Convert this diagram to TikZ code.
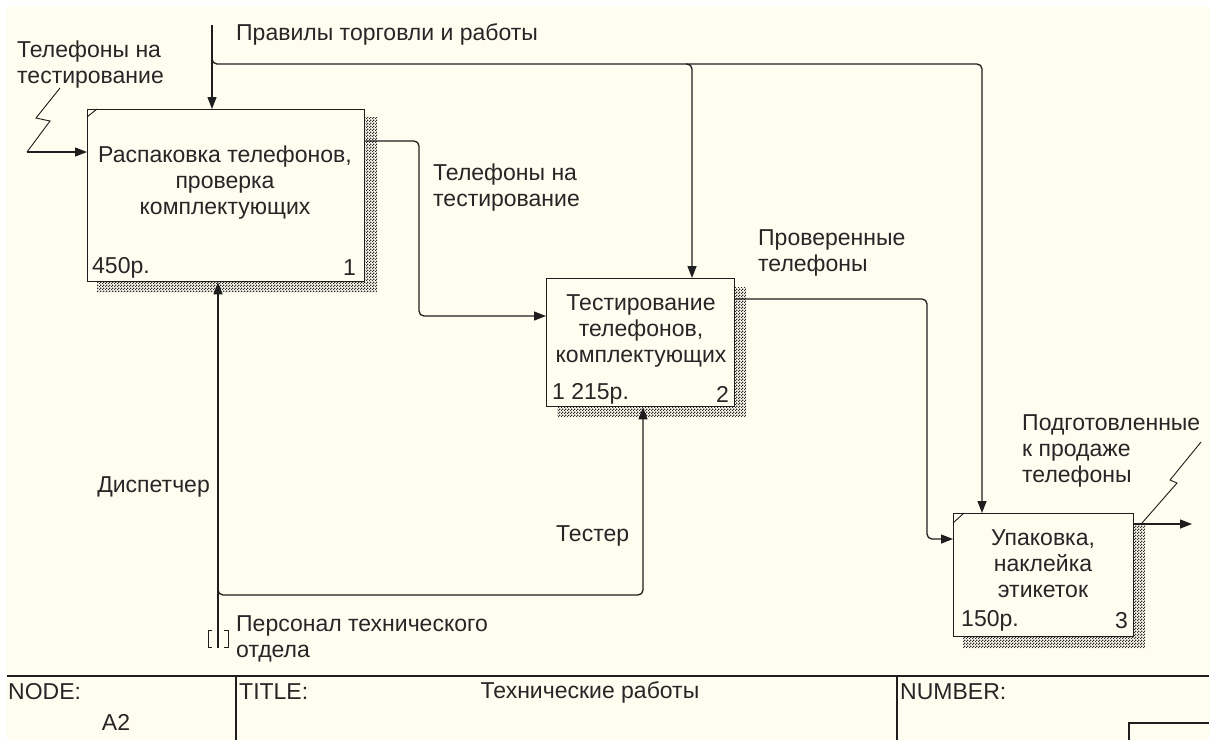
\documentclass[tikz,border=0pt]{standalone}
\usepackage{fontspec}
\setmainfont{Liberation Sans}
\usetikzlibrary{arrows.meta,patterns}

\definecolor{paper}{RGB}{255,252,240}
\definecolor{ink}{RGB}{30,30,30}
\definecolor{shade}{RGB}{40,40,40}

% checkered hatching used for the box shadows
\pgfdeclarepatternformonly{finecheck}{\pgfpointorigin}{\pgfpoint{3pt}{3pt}}{\pgfpoint{3pt}{3pt}}{%
  \pgfpathrectangle{\pgfpointorigin}{\pgfpoint{1.5pt}{1.5pt}}%
  \pgfpathrectangle{\pgfpoint{1.5pt}{1.5pt}}{\pgfpoint{1.5pt}{1.5pt}}%
  \pgfusepath{fill}}

\tikzset{
  lab/.style={font=\fontsize{23}{26}\selectfont, text=black!85, inner sep=0pt},
  proc/.style={draw=ink, line width=1.3pt, fill=paper, anchor=north west, inner sep=0pt},
  boxshadow/.style={pattern=finecheck, pattern color=shade},
  conn/.style={draw=ink, line width=1.3pt, rounded corners=5pt},
  arr/.style={conn, -{Triangle[length=12pt,width=9pt]}},
  bolt/.style={draw=ink, line width=0.9pt},
  tick/.style={draw=ink, line width=0.9pt},
  frame/.style={draw=ink, line width=1.3pt},
}

\begin{document}
\begin{tikzpicture}[x=1pt,y=-1pt]
\useasboundingbox (0,0) rectangle (1209,740);
\fill[white] (0,0) rectangle (1209,740);
\fill[paper] (7,7) rectangle (1209,740);

% shadows
\fill[boxshadow] (364,117) -- (377,117) -- (377,292) -- (97,292) -- (97,281) -- (364,281) -- cycle;
\fill[boxshadow] (734,287) -- (746,287) -- (746,417) -- (557,417) -- (557,406) -- (734,406) -- cycle;
\fill[boxshadow] (1133,523) -- (1145,523) -- (1145,648) -- (963,648) -- (963,636) -- (1133,636) -- cycle;

% activity boxes
\node[proc, minimum width=277pt, minimum height=172pt] (b1) at (87,109) {};
\node[proc, minimum width=188pt, minimum height=128pt] (b2) at (546,278) {};
\node[proc, minimum width=180pt, minimum height=123pt] (b3) at (953,513) {};

\draw[tick] ([yshift=-8pt]b1.north west) -- ([xshift=10pt]b1.north west);
\draw[tick] ([yshift=-10pt]b3.north west) -- ([xshift=11pt]b3.north west);

\node[lab, align=center] (b1t) at (225,183) {Распаковка телефонов,\\проверка\\комплектующих};
\node[lab, anchor=west] (b1c) at (92,268) {450р.};
\node[lab, anchor=east] (b1n) at (356,268) {1};

\node[lab, align=center] (b2t) at (641,331) {Тестирование\\телефонов,\\комплектующих};
\node[lab, anchor=west] (b2c) at (552,394) {1 215р.};
\node[lab, anchor=east] (b2n) at (729,394) {2};

\node[lab, align=center] (b3t) at (1043,564) {Упаковка,\\наклейка\\этикеток};
\node[lab, anchor=west] (b3c) at (961,621) {150р.};
\node[lab, anchor=east] (b3n) at (1128,621) {3};

% input to box 1
\coordinate (i1a) at (60,88);
\coordinate (i1b) at (36,118);
\coordinate (i1c) at (50,121);
\coordinate (i1d) at (27,152);
\draw[bolt] (i1a) -- (i1b) -- (i1c) -- (i1d);
\draw[arr] (i1d) -- (i1d -| b1.west);
\node[lab, anchor=west, align=left] (i1l) at (17,65) {Телефоны на\\тестирование};

% controls
\coordinate (c1) at (212,25);
\coordinate (c1j) at (212,59);
\coordinate (c2x) at (692,64);
\coordinate (c3x) at (982,64);
\draw[arr] (c1) -- (c1 |- b1.north);
\draw[conn, -{Triangle[length=12pt,width=9pt]}] (c1j) |- (c3x) -- (c3x |- b3.north);
\draw[arr] (c2x) ++(-6,0) -| (c2x |- b2.north);
\node[lab, anchor=west] (c1l) at (236,34) {Правилы торговли и работы};

% box 1 -> box 2
\coordinate (o1k) at (419,316);
\draw[arr] (b1.east |- 0,141) -| (o1k) -- (o1k -| b2.west);
\node[lab, anchor=west, align=left] (o1l) at (433,188) {Телефоны на\\тестирование};

% box 2 -> box 3
\coordinate (o2k) at (927,539);
\draw[arr] (b2.east |- 0,299) -| (o2k) -- (o2k -| b3.west);
\node[lab, anchor=west, align=left] (o2l) at (758,253) {Проверенные\\телефоны};

% output of box 3
\coordinate (o3e) at (1192,524);
\draw[arr] (o3e -| b3.east) -- (o3e);
\coordinate (o3a) at (1142,523);
\coordinate (o3b) at (1177,483);
\coordinate (o3c) at (1170,480);
\coordinate (o3d) at (1201,442);
\draw[bolt] (o3a) -- (o3b) -- (o3c) -- (o3d);
\node[lab, anchor=west, align=left] (o3l) at (1022,451) {Подготовленные\\к продаже\\телефоны};

% mechanisms
\coordinate (m1) at (218,648);
\coordinate (m1j) at (218,590);
\coordinate (m2x) at (643,595);
\draw[arr] (m1) -- (m1 |- b1.south);
\draw[arr] (m1j) |- (m2x) -- (m2x |- b2.south);
\draw[tick] (212,630) -- (208,630) -- (208,647) -- (212,647);
\draw[tick] (224,630) -- (228,630) -- (228,647) -- (224,647);
\node[lab, anchor=east] (m1l) at (210,487) {Диспетчер};
\node[lab, anchor=west] (m2l) at (556,536) {Тестер};
\node[lab, anchor=west, align=left] (m0l) at (236,639) {Персонал технического\\отдела};

% title frame
\coordinate (f0) at (7,676);
\coordinate (f1) at (1209,676);
\coordinate (f2) at (236,740);
\coordinate (f3) at (897,740);
\coordinate (f4) at (1129,723);
\draw[frame] (f0) -- (f1);
\draw[frame] (f2) -- (f2 |- f0);
\draw[frame] (f3) -- (f3 |- f0);
\draw[frame] (f4 |- f2) -- (f4) -- (f4 -| f1);
\node[lab, anchor=west] (fn) at (8,692) {NODE:};
\node[lab] (fa) at (116,722) {A2};
\node[lab, anchor=west] (ft) at (239,692) {TITLE:};
\node[lab] (fti) at (590,692) {Технические работы};
\node[lab, anchor=west] (fnum) at (900,692) {NUMBER:};
\end{tikzpicture}
\end{document}
